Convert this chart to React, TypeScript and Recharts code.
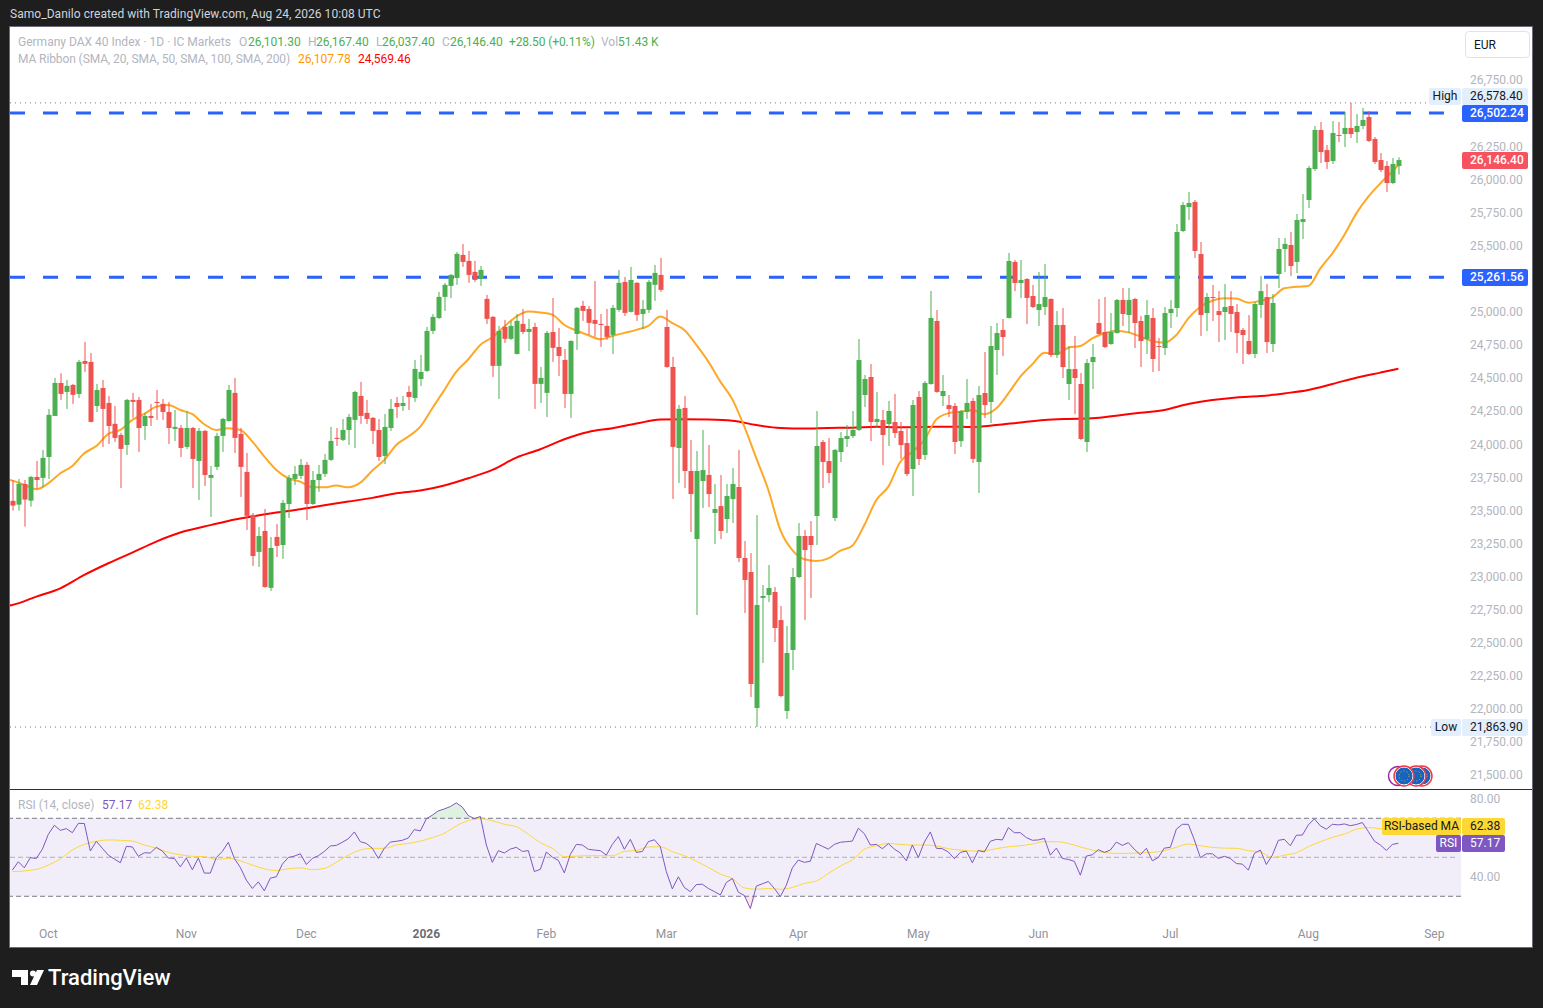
import { Area, Bar, ComposedChart, Line, ReferenceArea, ReferenceLine, XAxis, YAxis } from 'recharts';

// candles, one entry per trading day (day 1 = first candle on the left)
const opens = [
  23572,23544,23700,23574,23753,23746,23904,24214,24463,24395,24448,24380,24629,24622,24289,24425,24312,24154,24070,23995,
  24335,24335,24138,24214,24320,24305,24244,24116,24123,23980,24123,23874,24101,23746,23829,24063,24176,24388,24078,23791,
  23466,23187,23345,22915,23300,23239,23549,23738,23761,23844,23549,23730,23776,23882,24048,24033,24108,24184,24365,24237,
  24199,24108,23912,24123,24312,24289,24395,24350,24493,24554,24856,24954,25113,25196,25256,25430,25385,25302,25249,25098,
  24962,24592,24886,24796,24682,24909,24848,24886,24456,24388,24848,24735,24637,24380,24833,25045,25022,24939,24909,24894,
  24826,25015,25226,25000,25219,24984,25015,25204,25279,24886,24584,23972,24274,23798,23284,23722,23768,23481,23533,23435,
  23586,23677,23141,23035,22008,22839,22861,22884,22672,21985,22446,22997,23307,23307,23458,24017,23873,23443,23941,24040,
  24062,24108,24372,24508,24168,24183,24153,24168,24100,24009,23813,24357,23919,24455,24931,24364,24296,24289,24024,24244,
  24327,23866,24387,24319,24712,24863,24954,25377,25218,25248,25120,25014,25037,25097,24674,24901,24455,24568,24455,24017,
  24621,24916,24848,24757,24840,25090,24976,25097,24931,24795,24954,24742,24727,24991,25029,25611,25792,25830,25437,24991,
  25112,25006,24999,25044,24999,24863,24780,24682,25052,25112,24757,25286,25475,25505,25377,25679,25845,26079,26374,26222,
  26139,26336,26343,26389,26358,26404,26472,26306,26147,26102,25973,26101.3,
];
const highs = [
  23730,23738,23730,23761,23874,23957,24267,24501,24536,24486,24456,24637,24773,24690,24456,24486,24365,24289,24086,24342,
  24388,24357,24237,24305,24410,24342,24320,24259,24146,24252,24131,24123,24108,23836,24086,24199,24448,24501,24123,23934,
  23481,23375,23511,23300,23398,23579,23768,23836,23889,23866,23798,23844,23927,24131,24123,24191,24229,24403,24471,24335,
  24206,24191,24229,24342,24357,24365,24441,24637,24675,24886,24984,25151,25219,25285,25453,25513,25460,25385,25347,25128,
  24969,24894,24939,24932,24984,25022,24947,24917,24584,24856,25105,24879,24720,24785,25037,25083,25045,25234,24984,25022,
  25052,25317,25264,25340,25226,25090,25241,25355,25407,25015,24660,24297,24364,24032,23949,24108,23994,23700,23768,23700,
  23821,23957,23269,23178,23465,22937,23088,22922,22778,22627,23065,23405,23352,23420,24251,24032,24047,23964,24092,24145,
  24251,24795,24523,24606,24395,24259,24327,24380,24168,24115,24334,24402,24478,25158,25014,24523,24372,24312,24259,24493,
  24349,24440,24697,24893,24916,24946,25445,25392,25392,25255,25203,25301,25361,25102,25006,25029,24742,24818,24538,24644,
  24757,25097,25112,24991,25097,25180,25180,25105,24969,25090,25029,24802,25037,25090,25664,25830,25905,25845,25528,25142,
  25203,25157,25210,25157,25059,24878,24976,25074,25271,25210,25135,25558,25558,25603,25739,25890,26102,26404,26434,26260,
  26442,26434,26510,26578,26494,26540,26517,26321,26200,26139,26162,26167.4,
];
const lows = [
  23499,23499,23378,23529,23663,23675,23738,24214,24335,24267,24305,24350,24546,24165,24244,23980,24002,24018,23670,23919,
  24199,23942,24033,24138,24184,24184,24002,24025,23904,23965,23670,23579,23685,23451,23806,23942,24170,23934,23602,23353,
  23081,23073,22915,22892,23149,23134,23443,23693,23738,23428,23542,23640,23753,23874,23987,24025,23995,23972,24154,24154,
  24002,23874,23851,24101,24199,24252,24259,24320,24441,24546,24833,24947,25007,25105,25204,25340,25219,25226,25196,24909,
  24509,24342,24765,24788,24678,24833,24705,24267,24312,24206,24622,24516,24274,24199,24713,24932,24826,24811,24735,24788,
  24682,25000,24969,24996,24932,24871,24992,25083,25151,24577,23587,23708,23669,23337,22710,23518,23526,23246,23284,23330,
  23405,23110,22725,22091,21864,22347,22808,22506,22090,21925,22295,22990,22672,22839,23239,23669,23707,23420,23866,23979,
  24047,24100,24281,24024,24130,23843,23987,24047,23889,23760,23609,23843,23881,24449,24389,24289,24206,23926,23979,24191,
  23858,23632,24198,24160,24523,24666,24950,25157,25105,24908,25029,24893,24976,24659,24651,24500,24334,24228,24032,23941,
  24417,24828,24727,24752,24836,24893,24840,24727,24583,24682,24546,24553,24674,24878,24961,25603,25694,25407,24818,24855,
  24931,24772,24787,24848,24689,24606,24674,24651,24954,24689,24697,25180,25301,25271,25293,25550,25785,26064,26124,26079,
  26117,26283,26245,26313,26275,26381,26283,26117,26056,25905,25966,26037.4,
];
const closes = [
  23537,23700,23582,23753,23730,23897,24222,24463,24380,24441,24373,24622,24607,24169,24410,24267,24138,24048,23965,24335,
  24320,24123,24214,24199,24312,24244,24123,24131,23972,24123,23889,24101,23768,23768,24063,24191,24410,24048,23829,23459,
  23156,23307,22922,23217,23232,23557,23746,23776,23844,23549,23730,23776,23882,24025,24040,24108,24206,24395,24214,24191,
  24101,23904,24131,24267,24282,24312,24357,24569,24546,24856,24962,25113,25204,25279,25438,25377,25279,25241,25317,24947,
  24592,24856,24796,24894,24932,24848,24871,24456,24501,24841,24728,24667,24380,24780,25030,25007,24917,24909,24901,24811,
  25030,25219,24992,25241,24977,25022,25226,25294,25166,24584,23980,24267,23798,23624,23798,23805,23624,23511,23345,23609,
  23700,23141,22975,22189,22786,22854,22914,22612,22098,22423,22997,23307,23201,23239,23987,23866,23783,23957,24047,24062,
  24108,24636,24493,24168,24191,24070,24251,24085,23994,23775,24296,23889,24463,24954,24395,24402,24266,24017,24251,24312,
  23889,24372,24296,24742,24840,24810,25384,25218,25241,25105,25037,25059,25112,24674,24901,24583,24568,24500,24040,24614,
  24659,24833,24734,24848,25090,24984,25090,24916,24780,24976,24644,24737,24991,25022,25603,25807,25822,25460,24976,25112,
  25105,24976,25037,24984,24840,24825,24682,25059,25157,24772,25067,25475,25513,25346,25694,25701,26087,26374,26207,26132,
  26351,26331,26389,26343,26404,26449,26291,26132,26071,25973,26117,26146.4,
];

// [day, value]
const ma20Points = [
  [0,23736],[1,23725],[3,23693],[5,23660],[7,23705],[9,23781],[11,23836],[13,23932],[15,23987],[17,24078],[19,24108],[21,24184],
  [23,24229],[25,24284],[27,24297],[29,24259],[31,24227],[33,24151],[35,24108],[37,24121],[39,24108],[41,24020],[43,23907],[45,23806],
  [47,23743],[49,23718],[51,23675],[53,23675],[55,23688],[57,23675],[59,23710],[61,23801],[63,23882],[65,23995],[67,24058],[69,24133],
  [71,24272],[73,24410],[75,24549],[77,24642],[79,24750],[81,24808],[83,24889],[85,24964],[87,25002],[89,24995],[91,24979],[93,24901],
  [95,24859],[97,24823],[99,24793],[101,24818],[103,24841],[105,24864],[107,24894],[109,24964],[111,24914],[113,24863],[115,24750],[117,24624],
  [119,24473],[121,24339],[123,24133],[125,23894],[127,23654],[129,23352],[131,23201],[133,23131],[135,23118],[137,23138],[139,23196],[141,23234],
  [143,23390],[145,23579],[147,23680],[149,23868],[151,23944],[153,24032],[155,24188],[157,24234],[159,24246],[161,24259],[163,24226],[165,24271],
  [167,24384],[169,24510],[171,24604],[173,24692],[175,24682],[177,24729],[179,24742],[181,24800],[183,24838],[185,24858],[187,24845],[189,24813],
  [191,24780],[193,24767],[195,24825],[197,24951],[199,25039],[201,25084],[203,25102],[205,25100],[207,25069],[209,25084],[211,25110],[213,25178],
  [215,25190],[217,25195],[219,25329],[221,25442],[223,25581],[225,25744],[227,25870],[229,25971],[231,26060],[232,26107.78],
];
const ma200Points = [
  [0,22779],[1,22786],[5,22849],[9,22912],[13,23013],[17,23101],[21,23182],[25,23265],[29,23333],[33,23378],[37,23421],[41,23454],
  [45,23484],[49,23509],[53,23539],[57,23567],[61,23595],[65,23630],[69,23650],[73,23688],[77,23743],[81,23806],[85,23899],[89,23962],
  [93,24038],[97,24093],[101,24121],[105,24156],[109,24186],[113,24188],[117,24186],[121,24178],[125,24145],[129,24123],[133,24118],[137,24123],
  [141,24125],[145,24133],[149,24128],[153,24130],[157,24133],[161,24130],[165,24145],[169,24165],[173,24183],[177,24191],[181,24196],[185,24216],
  [189,24238],[193,24259],[197,24304],[201,24334],[205,24354],[209,24364],[213,24384],[217,24410],[221,24455],[225,24503],[229,24541],[232,24569.46],
];

const rsiValues = [
  43.4,47.7,44.6,49.8,49.4,54.1,61.8,66.4,63.8,64.7,62.6,67.4,67.3,53.2,58.2,54.6,51.1,49.1,47.2,55.6,
  55.3,50.5,52.3,52.2,55.1,53.2,49.6,49.4,45.1,49.6,43.6,49.6,41.9,41.9,49.9,53.0,57.7,49.4,44.8,38.3,
  34.0,37.4,32.8,39.3,40.0,46.5,49.9,50.6,51.8,46.3,49.4,50.8,53.0,55.8,56.1,57.7,59.5,63.0,58.0,57.1,
  54.6,49.4,54.6,57.8,58.2,58.7,59.9,64.2,63.5,69.7,71.6,73.8,74.8,76.0,77.9,75.7,71.4,69.8,70.9,56.3,
  47.4,53.4,52.2,54.2,55.1,53.0,53.4,42.7,43.8,52.7,50.1,48.4,42.0,51.5,56.6,56.3,54.1,53.7,53.4,51.1,
  56.6,60.6,54.1,59.2,52.5,53.0,58.0,59.0,55.4,42.6,33.8,40.0,34.5,32.4,36.0,36.2,34.0,32.4,30.7,37.1,
  39.1,32.1,30.4,23.7,35.2,36.4,37.6,34.0,29.9,35.7,44.6,48.6,47.4,48.0,57.1,55.6,54.2,56.6,57.7,58.0,
  58.3,64.9,62.1,56.3,56.6,54.4,57.0,54.2,52.2,48.2,56.3,49.9,57.8,63.0,54.6,54.4,52.7,49.3,52.5,53.2,
  47.2,53.5,52.7,58.2,59.2,58.9,65.2,62.6,62.6,60.1,58.7,58.9,59.7,51.1,54.7,49.4,48.9,47.9,40.8,50.6,
  51.3,53.9,52.5,53.7,57.8,56.1,57.5,54.1,51.3,54.6,48.2,49.9,54.7,55.1,64.4,66.9,66.9,58.9,49.8,51.8,
  51.8,49.4,50.5,49.4,46.8,46.5,43.4,52.0,53.7,46.3,51.1,58.7,59.2,55.9,61.3,61.4,66.6,69.7,66.1,64.4,
  66.9,66.6,67.1,66.2,66.8,67.8,63.2,58.3,56.3,53.5,56.6,57.17,
];
const rsiMaPoints = [
  [1,42.6],[5,43.8],[7,46.0],[9,49.1],[11,53.7],[13,56.6],[15,58.2],[17,58.9],[19,58.7],[21,58.3],[23,56.3],[25,54.6],[27,52.5],[29,51.3],
  [31,50.5],[33,50.3],[35,48.9],[37,49.4],[39,48.2],[41,46.0],[43,44.1],[45,43.2],[47,44.1],[49,44.6],[51,43.6],[53,44.3],[55,47.4],[57,51.1],
  [59,53.7],[61,54.6],[63,54.6],[65,56.3],[67,57.1],[69,58.3],[71,60.1],[73,62.3],[75,66.1],[77,68.8],[79,69.8],[81,68.8],[83,66.9],[85,65.7],
  [87,61.8],[89,57.5],[91,54.6],[93,50.3],[95,50.6],[97,50.8],[99,50.8],[101,50.8],[103,53.0],[105,53.5],[107,55.3],[109,55.4],[111,52.9],[113,50.8],
  [115,48.0],[117,44.8],[119,41.4],[121,39.1],[123,34.3],[125,33.6],[127,34.0],[129,33.6],[131,34.5],[133,36.6],[135,37.9],[137,41.7],[139,45.5],[141,48.7],
  [143,54.1],[145,55.9],[147,57.1],[149,56.6],[151,56.3],[153,56.3],[155,55.8],[157,54.4],[159,53.7],[161,53.2],[163,53.4],[165,54.4],[167,55.4],[169,55.9],
  [171,56.8],[173,58.0],[175,58.0],[177,57.1],[179,55.3],[181,53.7],[183,52.5],[185,52.0],[187,52.0],[189,52.3],[191,52.5],[193,53.4],[195,55.1],[197,56.8],
  [199,55.9],[201,55.1],[203,54.7],[205,54.6],[207,53.4],[209,52.7],[211,49.9],[213,51.1],[215,52.3],[217,55.4],[219,58.0],[221,60.2],[223,61.9],[225,64.4],
  [227,65.2],[229,64.7],[231,63.3],[232,62.38],
];

// 25,250 and 26,500 sit under the level labels in the original, so they are left out
const priceTicks = [
  21500,21750,22000,22250,22500,22750,23000,23250,23500,23750,24000,24250,24500,24750,25000,25500,25750,26000,26250,26750,
];
const rsiTicks = [40, 80];
const monthDays = [7, 30, 50, 70, 90, 110, 132, 152, 172, 194, 217, 238];
const monthLabels = ['Oct', 'Nov', 'Dec', '2026', 'Feb', 'Mar', 'Apr', 'May', 'Jun', 'Jul', 'Aug', 'Sep'];

const UP = '#4caf50';
const DOWN = '#ef5350';
const AXIS_TEXT = '#b2b5be';
const FONT = 'Roboto, sans-serif';
const X_DOMAIN = [0.612, 242.44];

const ma20ByDay = new Map(ma20Points.map(p => [p[0], p[1]]));
const ma200ByDay = new Map(ma200Points.map(p => [p[0], p[1]]));
const rsiMaByDay = new Map(rsiMaPoints.map(p => [p[0], p[1]]));

const rows = Array.from({ length: 233 }, (_, day) => {
  const i = day - 1;
  const rsi = rsiValues[i];
  return {
    day,
    open: opens[i],
    high: highs[i],
    low: lows[i],
    close: closes[i],
    range: day > 0 ? [lows[i], highs[i]] : undefined,
    ma20: ma20ByDay.get(day),
    ma200: ma200ByDay.get(day),
    rsi,
    rsiMa: rsiMaByDay.get(day),
    over: day > 0 ? [70, Math.max(rsi, 70)] : undefined,
    under: day > 0 ? [30, Math.min(rsi, 30)] : undefined,
  };
});

function Candle(props: any) {
  const { x, y, width, height, payload } = props;
  if (!payload || payload.high == null || !height) return null;
  const { open, high, low, close } = payload;
  const color = close >= open ? UP : DOWN;
  const cx = Math.round(x + width / 2);
  const k = height / (high - low);
  const top = y + (high - Math.max(open, close)) * k;
  const bodyH = Math.max(1, Math.abs(open - close) * k);
  return (
    <g>
      <rect x={cx - 0.5} y={y} width={1} height={height} fill={color} />
      <rect x={cx - 2.5} y={top} width={5} height={bodyH} fill={color} />
    </g>
  );
}

function MonthTick(props: any) {
  const { x, y, payload } = props;
  const label = monthLabels[monthDays.indexOf(payload.value)];
  const bold = label === '2026';
  return (
    <text x={x} y={y + 15} textAnchor="middle" fontSize={12} fontFamily={FONT} fontWeight={bold ? 700 : 400} fill={bold ? '#6a6d78' : '#8f929c'}>
      {label}
    </text>
  );
}

function Box({ x, y, w, h, bg, color, text, indent, weight = 400 }: any) {
  return (
    <div
      style={{
        position: 'absolute', left: x, top: y, width: w, height: h, background: bg, color, fontSize: 12, lineHeight: `${h}px`,
        textAlign: indent ? 'left' : 'center', textIndent: indent || 0, fontWeight: weight, whiteSpace: 'nowrap', borderRadius: 2,
      }}
    >
      {text}
    </div>
  );
}

function Txt({ x, y, color, text, size = 12, spacing = 0 }: any) {
  return (
    <span style={{ position: 'absolute', left: x, top: y, color, fontSize: size, letterSpacing: spacing, lineHeight: '14px', whiteSpace: 'nowrap' }}>{text}</span>
  );
}

function Flag({ cx, ring }: { cx: number; ring: string }) {
  return (
    <g>
      <circle cx={cx} cy={776} r={9} fill="#1565c0" stroke="#fff" strokeWidth={1} />
      <circle cx={cx} cy={776} r={10} fill="none" stroke={ring} strokeWidth={1.5} />
      <circle cx={cx} cy={776} r={5} fill="none" stroke="#d8b830" strokeWidth={1} strokeDasharray="1 2.2" />
    </g>
  );
}

export default function App() {
  return (
    <div style={{ position: 'fixed', left: 0, top: 0, width: 1543, height: 1008, background: '#1e1e1e', fontFamily: FONT, overflow: 'hidden' }}>
      <Txt x={10} y={7} color="#d1d4dc" spacing={0.05} text="Samo_Danilo created with TradingView.com, Aug 24, 2026 10:08 UTC" />

      <div style={{ position: 'absolute', left: 10, top: 27, width: 1522, height: 920, background: '#fff', outline: '1px solid #6a6d78' }} />

      <div style={{ position: 'absolute', left: 10, top: 28 }}>
        <ComposedChart width={1522} height={761} data={rows} margin={{ top: 0, right: 0, bottom: 0, left: 0 }}>
          <XAxis dataKey="day" type="number" domain={X_DOMAIN} allowDataOverflow hide />
          <YAxis
            orientation="right"
            width={71}
            domain={[21396, 27144]}
            allowDataOverflow
            ticks={priceTicks}
            interval={0}
            axisLine={false}
            tickLine={false}
            tickMargin={3}
            tick={{ fontSize: 12, fill: AXIS_TEXT, fontFamily: FONT }}
            tickFormatter={(v: number) => v.toLocaleString('en-US', { minimumFractionDigits: 2 })}
          />
          <ReferenceLine stroke="#787b86" strokeDasharray="1 4" segment={[{ x: X_DOMAIN[0], y: 26578.4 }, { x: 237.7, y: 26578.4 }]} />
          <ReferenceLine stroke="#787b86" strokeDasharray="1 4" segment={[{ x: X_DOMAIN[0], y: 21863.9 }, { x: 238, y: 21863.9 }]} />
          <ReferenceLine stroke="#2962ff" strokeWidth={3} strokeDasharray="15 18" segment={[{ x: X_DOMAIN[0], y: 26502.24 }, { x: 239.6, y: 26502.24 }]} />
          <ReferenceLine stroke="#2962ff" strokeWidth={3} strokeDasharray="15 18" segment={[{ x: X_DOMAIN[0], y: 25261.56 }, { x: 239.6, y: 25261.56 }]} />
          <Line dataKey="ma200" stroke="#ff0000" strokeWidth={2} dot={false} connectNulls type="monotone" zIndex={250} isAnimationActive={false} />
          <Line dataKey="ma20" stroke="#ffa726" strokeWidth={2} dot={false} connectNulls type="monotone" zIndex={250} isAnimationActive={false} />
          <Bar dataKey="range" barSize={5} shape={Candle} zIndex={500} isAnimationActive={false} />
        </ComposedChart>
      </div>

      <div style={{ position: 'absolute', left: 10, top: 789, width: 1522, height: 1, background: '#2a2e39' }} />

      <div style={{ position: 'absolute', left: 10, top: 790 }}>
        <ComposedChart width={1522} height={157} data={rows} margin={{ top: 0, right: 0, bottom: 0, left: 0 }}>
          <XAxis
            dataKey="day"
            type="number"
            domain={X_DOMAIN}
            allowDataOverflow
            ticks={monthDays}
            interval={0}
            height={32}
            axisLine={false}
            tickLine={false}
            tick={MonthTick}
          />
          <YAxis
            orientation="right"
            width={71}
            domain={[20.4, 84.5]}
            allowDataOverflow
            ticks={rsiTicks}
            interval={0}
            axisLine={false}
            tickLine={false}
            tickMargin={3}
            tick={{ fontSize: 12, fill: AXIS_TEXT, fontFamily: FONT }}
            tickFormatter={(v: number) => v.toFixed(2)}
          />
          <ReferenceArea y1={30} y2={70} fill="#7e57c2" fillOpacity={0.1} stroke="none" />
          <ReferenceLine y={70} stroke="#787b86" strokeDasharray="5 3" />
          <ReferenceLine y={30} stroke="#787b86" strokeDasharray="5 3" />
          <ReferenceLine stroke="#787b86" strokeOpacity={0.55} strokeDasharray="5 3" segment={[{ x: X_DOMAIN[0], y: 50 }, { x: 241.6, y: 50 }]} />
          <Area dataKey="over" stroke="none" fill={UP} fillOpacity={0.18} isAnimationActive={false} />
          <Area dataKey="under" stroke="none" fill="#f23645" fillOpacity={0.12} isAnimationActive={false} />
          <Line dataKey="rsiMa" stroke="#fdd835" strokeWidth={1} dot={false} connectNulls type="monotone" isAnimationActive={false} />
          <Line dataKey="rsi" stroke="#7e57c2" strokeWidth={1} dot={false} isAnimationActive={false} />
        </ComposedChart>
      </div>

      {/* legend, top left */}
      <Txt x={18} y={35} color={AXIS_TEXT} text="Germany DAX 40 Index · 1D · IC Markets" />
      <Txt x={239} y={35} color={AXIS_TEXT} text="O" />
      <Txt x={248} y={35} color={UP} text="26,101.30" />
      <Txt x={308} y={35} color={AXIS_TEXT} text="H" />
      <Txt x={316} y={35} color={UP} text="26,167.40" />
      <Txt x={376} y={35} color={AXIS_TEXT} text="L" />
      <Txt x={382} y={35} color={UP} text="26,037.40" />
      <Txt x={442} y={35} color={AXIS_TEXT} text="C" />
      <Txt x={450} y={35} color={UP} text="26,146.40" />
      <Txt x={509} y={35} color={UP} spacing={-0.1} text="+28.50 (+0.11%)" />
      <Txt x={601} y={35} color={AXIS_TEXT} text="Vol" />
      <Txt x={618} y={35} color={UP} text="51.43 K" />
      <Txt x={18} y={52} color={AXIS_TEXT} spacing={-0.1} text="MA Ribbon (SMA, 20, SMA, 50, SMA, 100, SMA, 200)" />
      <Txt x={298} y={52} color="#ff9800" text="26,107.78" />
      <Txt x={358} y={52} color="#ff0000" text="24,569.46" />
      <Txt x={18} y={798} color={AXIS_TEXT} text="RSI (14, close)" />
      <Txt x={102} y={798} color="#7e57c2" text="57.17" />
      <Txt x={138} y={798} color="#fdd835" text="62.38" />

      {/* price scale labels */}
      <div style={{ position: 'absolute', left: 1465, top: 31, width: 55, height: 25, border: '1px solid #e0e3eb', borderRadius: 4, fontSize: 12, lineHeight: '26px', paddingLeft: 8, color: '#131722' }}>EUR</div>
      <Box x={1429} y={88} w={32} h={17} bg="#e3effd" color="#131722" text="High" />
      <Box x={1462} y={88} w={66} h={17} bg="#e3effd" color="#131722" indent={8} text="26,578.40" />
      <Box x={1462} y={105} w={66} h={17} bg="#2962ff" color="#fff" indent={8} text="26,502.24" weight={500} />
      <Box x={1462} y={152} w={66} h={17} bg="#f7525f" color="#fff" indent={8} text="26,146.40" weight={500} />
      <Box x={1462} y={269} w={66} h={17} bg="#2962ff" color="#fff" indent={8} text="25,261.56" weight={500} />
      <Box x={1431} y={719} w={30} h={17} bg="#e3effd" color="#131722" text="Low" />
      <Box x={1462} y={719} w={66} h={17} bg="#e3effd" color="#131722" indent={8} text="21,863.90" />
      <Box x={1382} y={818} w={79} h={17} bg="#fdd835" color="#131722" text="RSI-based MA" />
      <Box x={1462} y={818} w={43} h={17} bg="#fdd835" color="#131722" indent={8} text="62.38" />
      <Box x={1436} y={835} w={25} h={17} bg="#7e57c2" color="#fff" text="RSI" />
      <Box x={1462} y={835} w={43} h={17} bg="#7e57c2" color="#fff" indent={8} text="57.17" />

      {/* event markers and logo */}
      <svg style={{ position: 'absolute', left: 0, top: 0, pointerEvents: 'none' }} width={1543} height={1008}>
        <circle cx={1398} cy={776} r={9.5} fill="#fff" stroke="#9c27b0" strokeWidth={1.5} />
        <Flag cx={1422} ring="#f23645" />
        <Flag cx={1416} ring="#f23645" />
        <Flag cx={1404} ring="#f23645" />
        <path d="M12 970h16v15h-7v-8h-9z M37 985h-7l7-15h7z" fill="#fff" />
        <circle cx={33} cy={973.5} r={3} fill="#fff" />
      </svg>
      <span style={{ position: 'absolute', left: 48, top: 965, color: '#fff', fontSize: 22, fontWeight: 500, lineHeight: '26px' }}>TradingView</span>
    </div>
  );
}
